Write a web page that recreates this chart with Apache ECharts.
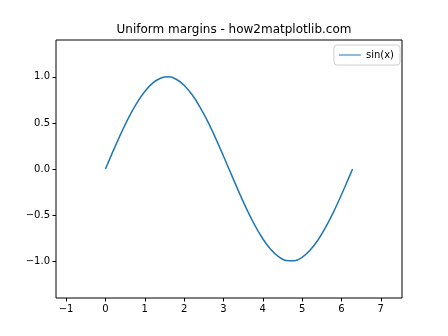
<!DOCTYPE html>
<html><head><meta charset="utf-8">
<script src="https://cdn.jsdelivr.net/npm/echarts@6/dist/echarts.min.js"></script>
<style>html,body{margin:0;padding:0;background:#fff}#c{width:448px;height:336px}</style>
</head><body><div id="c"></div>
<script>
const xValues = [0,0.2,0.4,0.6,0.8,1.0,1.2,1.4,1.6,1.8,2.0,2.2,2.4,2.6,2.8,3.0,3.2,3.4,3.6,3.8,4.0,4.2,4.4,4.6,4.8,5.0,5.2,5.4,5.6,5.8,6.0,6.2,6.283];
const sinValues = [0,0.199,0.389,0.565,0.717,0.841,0.932,0.985,1.0,0.974,0.909,0.808,0.675,0.516,0.335,0.141,-0.058,-0.256,-0.443,-0.612,-0.757,-0.872,-0.952,-0.994,-0.996,-0.959,-0.883,-0.773,-0.631,-0.465,-0.279,-0.083,0];
const xTicks = [-1,0,1,2,3,4,5,6,7];
const yTicks = [-1.0,-0.5,0.0,0.5,1.0];
const seriesName = 'sin(x)';
const titleText = 'Uniform margins - how2matplotlib.com';

const font = 'DejaVu Sans';
const chart = echarts.init(document.getElementById('c'), null, {renderer:'canvas'});
const fmt = (v, d) => { let s = Math.abs(v).toFixed(d); return (v < -1e-9 ? '\u2212' : '') + s; };
chart.setOption({
  animation:false,
  backgroundColor:'#fff',
  title:{text:titleText,left:229,top:19,textAlign:'center',
    textStyle:{fontFamily:font,fontSize:12,fontWeight:'normal',color:'#000'}},
  legend:{right:48,top:45,orient:'vertical',itemWidth:22,itemHeight:10,itemGap:4,
    padding:[5,6,5,5],borderColor:'#d0d0d0',borderWidth:1,borderRadius:3,
    textStyle:{fontFamily:font,fontSize:10,color:'#000'},
    data:[{name:seriesName,icon:'path://M0,4.5L22,4.5L22,5.5L0,5.5Z'}]},
  grid:{left:56,right:46,top:40,bottom:38,show:true,borderColor:'#000',borderWidth:1,backgroundColor:'transparent'},
  xAxis:{type:'value',min:-1.2566,max:7.5398,
    axisLine:{show:false,onZero:false},splitLine:{show:false},
    axisTick:{show:true,length:3.5,lineStyle:{color:'#000',width:1},customValues:xTicks},
    axisLabel:{customValues:xTicks,fontFamily:font,fontSize:10,color:'#000',margin:6,formatter:v=>fmt(v,0)}},
  yAxis:{type:'value',min:-1.4,max:1.4,
    axisLine:{show:false,onZero:false},splitLine:{show:false},
    axisTick:{show:true,length:3.5,lineStyle:{color:'#000',width:1},customValues:yTicks},
    axisLabel:{customValues:yTicks,fontFamily:font,fontSize:10,color:'#000',margin:6,formatter:v=>fmt(v,1)}},
  series:[{name:seriesName,type:'line',data:xValues.map((x,i)=>[x,sinValues[i]]),
    showSymbol:false,smooth:0.3,lineStyle:{color:'#1f77b4',width:1.5},itemStyle:{color:'#1f77b4'}}]
});
</script></body></html>
